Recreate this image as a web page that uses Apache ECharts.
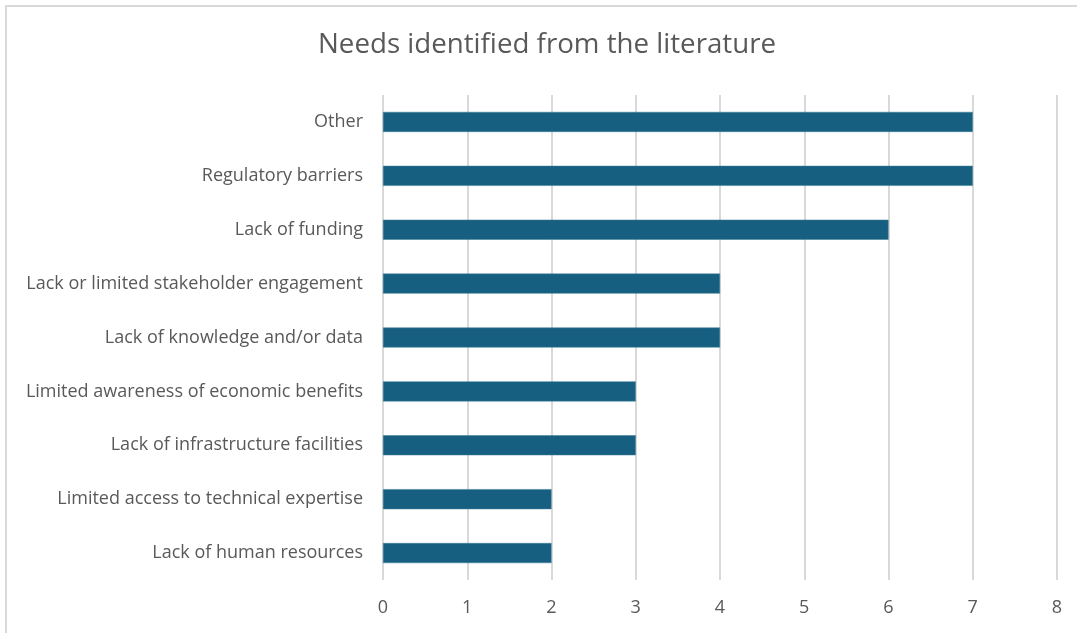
<!DOCTYPE html>
<html>
<head>
<meta charset="utf-8">
<script src="https://cdn.jsdelivr.net/npm/echarts@6/dist/echarts.min.js"></script>
<style>
html,body{margin:0;padding:0;background:#fff;overflow:hidden;}
#frame{position:absolute;left:5px;top:5px;width:1100px;height:660px;border:2px solid #d9d9d9;box-sizing:border-box;}
#chart{position:absolute;left:0;top:0;width:1077px;height:633px;}
</style>
</head>
<body>
<div id="frame"></div>
<div id="chart"></div>
<script>
const title = "Needs identified from the literature";
const categories = [
  "Lack of human resources",
  "Limited access to technical expertise",
  "Lack of infrastructure facilities",
  "Limited awareness of economic benefits",
  "Lack of knowledge and/or data",
  "Lack or limited stakeholder engagement",
  "Lack of funding",
  "Regulatory barriers",
  "Other"
];
const values = [2, 2, 3, 3, 4, 4, 6, 7, 7];
const xTicks = [0, 1, 2, 3, 4, 5, 6, 7, 8];

const chart = echarts.init(document.getElementById('chart'), null, {renderer: 'canvas'});
chart.setOption({
  backgroundColor: 'transparent',
  animation: false,
  title: {
    text: title,
    left: 313,
    top: 26,
    textStyle: {fontFamily: 'Open Sans', fontSize: 27.7, fontWeight: 'normal', color: '#595959'}
  },
  grid: {left: 383, right: 20, top: 95, bottom: 53, containLabel: false},
  xAxis: {
    type: 'value',
    min: xTicks[0],
    max: xTicks[xTicks.length - 1],
    interval: 1,
    axisLine: {show: false},
    axisTick: {show: false},
    axisLabel: {fontFamily: 'Open Sans', fontSize: 18, color: '#595959', margin: 19},
    splitLine: {show: true, lineStyle: {color: '#d9d9d9', width: 2}}
  },
  yAxis: {
    type: 'category',
    data: categories,
    axisLine: {show: false},
    axisTick: {show: false},
    axisLabel: {fontFamily: 'Open Sans', fontSize: 18, color: '#595959', margin: 20}
  },
  series: [{
    type: 'bar',
    data: values,
    barWidth: 20,
    itemStyle: {color: '#175f80', borderColor: '#3a7c99', borderWidth: 0.5}
  }]
});
</script>
</body>
</html>
